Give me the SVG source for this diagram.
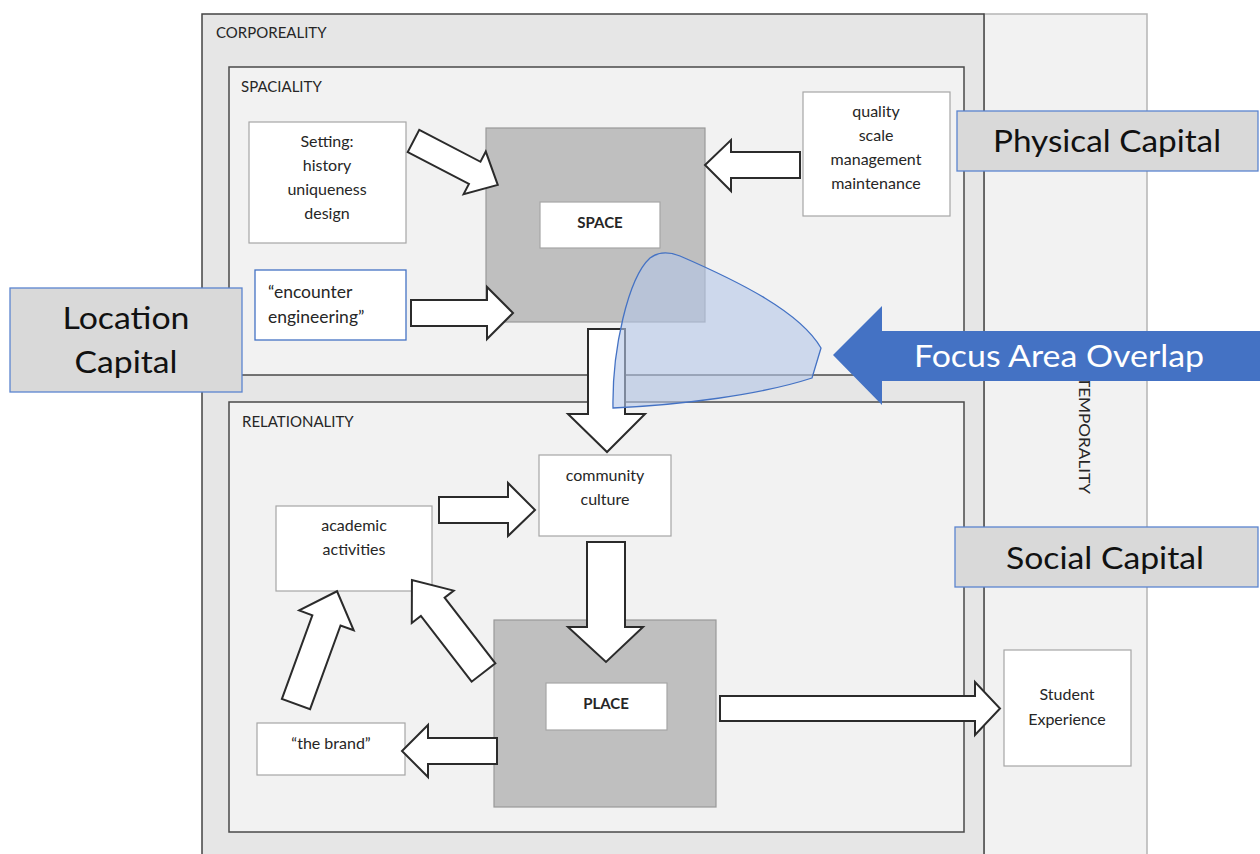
<svg xmlns="http://www.w3.org/2000/svg" width="1260" height="854" viewBox="0 0 1260 854">
<style>
.t{font-family:Lato,"Open Sans","Noto Sans",sans-serif;fill:#262626;}
.s{font-size:16px;text-anchor:middle;}
.lbl{font-size:15px;}
.b{font-size:15px;font-weight:bold;text-anchor:middle;}
.big{font-size:31px;text-anchor:middle;fill:#111;}
.box{fill:#fff;stroke:#a6a6a6;stroke-width:1.2;}
.gray{fill:#bfbfbf;stroke:#999;stroke-width:1.2;}
.cap{fill:#d9d9d9;stroke:#5b84cf;stroke-width:1.3;}
.arr{fill:#fff;stroke:#2b2b2b;stroke-width:2;stroke-linejoin:miter;}
</style>
<rect width="1260" height="854" fill="#fff"/>
<g id="temporality">
<rect x="984" y="14" width="163" height="850" fill="#f2f2f2" stroke="#b5b5b5" stroke-width="1.5"/>
<text class="t" font-size="15" transform="translate(1079,377) rotate(90)" textLength="117" lengthAdjust="spacingAndGlyphs">TEMPORALITY</text>
</g>
<g id="corporeality">
<rect x="202" y="14" width="782" height="850" fill="#e6e6e6" stroke="#444" stroke-width="1.5"/>
<text class="t lbl" x="216" y="38">CORPOREALITY</text>
</g>
<g id="spaciality">
<rect x="229" y="67" width="735" height="308" fill="#f2f2f2" stroke="#4a4a4a" stroke-width="1.5"/>
<text class="t lbl" x="241" y="92">SPACIALITY</text>
</g>
<g id="relationality">
<rect x="229" y="402" width="735" height="430" fill="#f2f2f2" stroke="#4a4a4a" stroke-width="1.5"/>
<text class="t lbl" x="242" y="427">RELATIONALITY</text>
</g>
<g id="space">
<rect class="gray" x="486" y="128" width="219" height="194"/>
<rect class="box" x="540" y="202" width="120" height="46"/>
<text class="t b" x="600" y="228">SPACE</text>
</g>
<g id="place">
<rect class="gray" x="494" y="620" width="222" height="187"/>
<rect class="box" x="546" y="683" width="121" height="47"/>
<text class="t b" x="606" y="709">PLACE</text>
</g>
<g id="setting">
<rect class="box" x="249" y="122" width="157" height="121"/>
<text class="t s" x="327" y="147">Setting:</text>
<text class="t s" x="327" y="171">history</text>
<text class="t s" x="327" y="195">uniqueness</text>
<text class="t s" x="327" y="219">design</text>
</g>
<g id="quality">
<rect class="box" x="803" y="92" width="147" height="124"/>
<text class="t s" x="876" y="117">quality</text>
<text class="t s" x="876" y="141">scale</text>
<text class="t s" x="876" y="165">management</text>
<text class="t s" x="876" y="189">maintenance</text>
</g>
<g id="encounter">
<rect x="255" y="270" width="151" height="70" fill="#fff" stroke="#4472c4" stroke-width="1.3"/>
<text class="t" font-size="17.5" x="268" y="298">“encounter</text>
<text class="t" font-size="17.5" x="268" y="323">engineering”</text>
</g>
<g id="community">
<rect class="box" x="539" y="455" width="132" height="81"/>
<text class="t s" x="605" y="481">community</text>
<text class="t s" x="605" y="505">culture</text>
</g>
<g id="academic">
<rect class="box" x="276" y="506" width="156" height="85"/>
<text class="t s" x="354" y="531">academic</text>
<text class="t s" x="354" y="555">activities</text>
</g>
<g id="brand">
<rect class="box" x="257" y="723" width="148" height="52"/>
<text class="t s" x="331" y="749">“the brand”</text>
</g>
<g id="student">
<rect class="box" x="1004" y="650" width="127" height="116"/>
<text class="t s" x="1067" y="700">Student</text>
<text class="t s" x="1067" y="725">Experience</text>
</g>
<g id="connectors">
<path class="arr" transform="translate(413.5,141) rotate(27.5)" d="M0,-12.5 L69,-12.5 L69,-24 L95,0 L69,24 L69,12.5 L0,12.5 Z"/>
<path class="arr" d="M411,300 L487,300 L487,287 L513,313 L487,339 L487,326 L411,326 Z"/>
<path class="arr" d="M800,152 L731,152 L731,140 L705,165 L731,191 L731,178 L800,178 Z"/>
<path class="arr" d="M588,329 L625,329 L625,414 L645,414 L607,452 L568,414 L588,414 Z"/>
<path class="arr" d="M439,497 L508,497 L508,483 L535,510 L508,536 L508,523 L439,523 Z"/>
<path class="arr" d="M587,542 L625,542 L625,627 L643,627 L606,662 L568,627 L587,627 Z"/>
<path class="arr" transform="translate(483.5,672.5) rotate(-127.7)" d="M0,-15 L83,-15 L83,-26.5 L117,0 L83,26.5 L83,15 L0,15 Z"/>
<path class="arr" transform="translate(296,704) rotate(-70)" d="M0,-15 L89,-15 L89,-29 L120,0 L89,29 L89,15 L0,15 Z"/>
<path class="arr" d="M497,738 L428,738 L428,725 L402,751 L428,777 L428,764 L497,764 Z"/>
<path class="arr" d="M720,696 L975,696 L975,682 L1000,708.5 L975,735 L975,721 L720,721 Z"/>
</g>
<g id="focus-overlap">
<path d="M613,408 C612,350 628,278 650,258 Q662,249 680,256 C740,282 800,312 821,348 L812,378 C760,395 680,405 613,408 Z" fill="#b4c7e7" fill-opacity="0.6" stroke="#4472c4" stroke-width="1.3"/>
</g>
<g id="focus-arrow">
<path d="M1262,331 L882,331 L882,306 L833,355 L882,405 L882,381 L1262,381 Z" fill="#4472c4"/>
<text class="t" font-size="30" style="fill:#fff" x="914" y="367" textLength="290" lengthAdjust="spacingAndGlyphs">Focus Area Overlap</text>
</g>
<g id="physical-capital">
<rect class="cap" x="957" y="111" width="301" height="60"/>
<text class="t big" x="1107" y="152" textLength="228" lengthAdjust="spacingAndGlyphs">Physical Capital</text>
</g>
<g id="social-capital">
<rect class="cap" x="955" y="527" width="303" height="60"/>
<text class="t big" x="1105" y="569" textLength="198" lengthAdjust="spacingAndGlyphs">Social Capital</text>
</g>
<g id="location-capital">
<rect class="cap" x="10" y="288" width="232" height="104"/>
<text class="t big" x="126" y="329" textLength="127" lengthAdjust="spacingAndGlyphs">Location</text>
<text class="t big" x="126" y="373" textLength="103" lengthAdjust="spacingAndGlyphs">Capital</text>
</g>
</svg>
